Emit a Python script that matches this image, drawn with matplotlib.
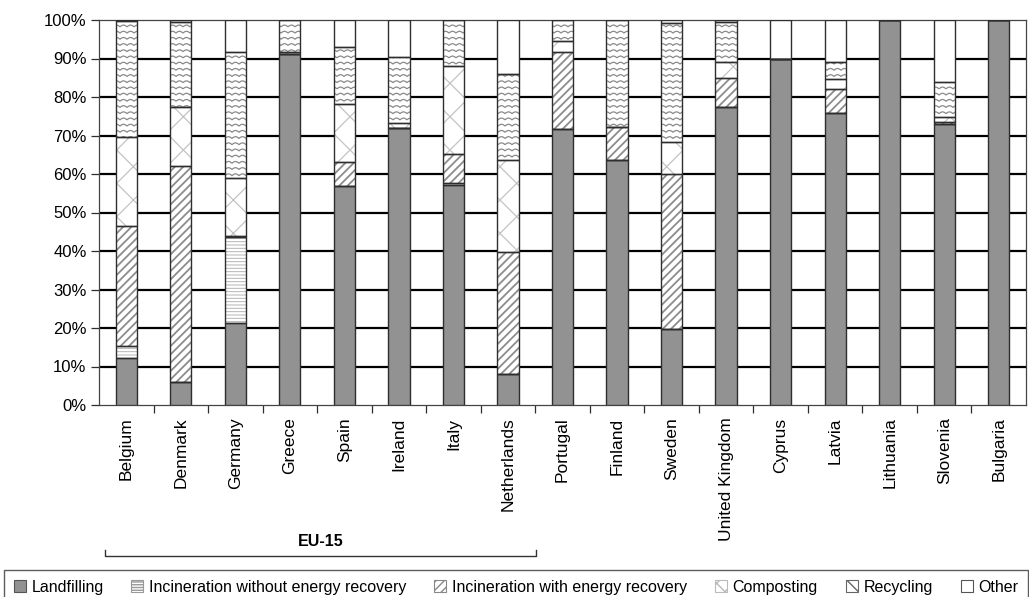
"""
Municipal waste treatment shares by country, stacked to 100 %.
"""

import numpy as np
import matplotlib.pyplot as plt
from matplotlib.patches import Patch
from matplotlib.collections import LineCollection
import matplotlib.transforms as mtransforms

plt.rcParams['font.family'] = ['Liberation Sans', 'DejaVu Sans']

# ============================================================================
# Data (% of municipal waste)
# ============================================================================

countries = ['Belgium', 'Denmark', 'Germany', 'Greece', 'Spain', 'Ireland',
             'Italy', 'Netherlands', 'Portugal', 'Finland', 'Sweden',
             'United Kingdom', 'Cyprus', 'Latvia', 'Lithuania', 'Slovenia',
             'Bulgaria']

landfilling = [12.3, 5.9, 21.4, 91.2, 56.9, 72.0, 57.1, 8.1, 71.7, 63.6,
               19.7, 77.3, 89.9, 75.8, 100.0, 72.9, 100.0]
incin_no_energy = [3.0, 0.0, 22.3, 0.0, 0.0, 0.0, 0.5, 0.0, 0.0, 0.0,
                   0.0, 0.0, 0.0, 0.0, 0.0, 0.0, 0.0]
incin_energy = [31.3, 56.2, 0.3, 0.0, 6.1, 0.0, 7.6, 31.6, 20.1, 8.5,
                40.2, 7.7, 0.0, 6.4, 0.0, 0.5, 0.0]
composting = [22.9, 15.4, 14.9, 0.6, 15.2, 1.3, 22.9, 23.9, 2.8, 0.0,
              8.5, 4.0, 0.0, 2.6, 0.0, 1.3, 0.0]
recycling = [30.3, 22.1, 32.7, 8.2, 14.7, 17.0, 11.9, 22.4, 5.4, 27.9,
             30.9, 10.6, 0.0, 4.2, 0.0, 9.1, 0.0]
other = [0.2, 0.4, 8.4, 0.0, 7.1, 9.7, 0.0, 14.0, 0.0, 0.0,
         0.7, 0.4, 10.1, 11.0, 0.0, 16.2, 0.0]

pct_ticks = np.arange(0, 101, 10)
eu15_label = 'EU-15'

# ============================================================================
# Styling
# ============================================================================

EDGE = '#2e2e2e'
BAR_W = 0.39

# (label, values, facecolor, hatch, hatch colour, hatch linewidth)
series = [
    ('Landfilling', landfilling, '#929292', None, None, 0.8),
    ('Incineration without energy recovery', incin_no_energy, 'white',
     '-----', '#b4b4b4', 0.7),
    ('Incineration with energy recovery', incin_energy, 'white',
     '////', '#8c8c8c', 1.3),
    ('Composting', composting, 'white', 'x', '#c4c4c4', 0.9),
    ('Recycling', recycling, 'white', None, None, 0.8),
    ('Other', other, 'white', None, None, 0.8),
]

fig = plt.figure(figsize=(10.29, 5.97), dpi=100)
ax = fig.add_axes([99 / 1029, 1 - 405 / 597, 927 / 1029, 385 / 597])

x = np.arange(len(countries))
bottom = np.zeros(len(countries))
recycling_bars = None

for label, vals, face, hatch, hcol, hlw in series:
    vals = np.asarray(vals, dtype=float)
    with plt.rc_context({'hatch.linewidth': hlw}):
        if hatch:
            # hatch colour follows edgecolor, so draw fill and outline apart
            fills = ax.bar(x, vals, BAR_W, bottom=bottom, color=face,
                           edgecolor=hcol, linewidth=0, hatch=hatch, zorder=3)
            for p in fills:
                if hasattr(p, 'set_hatch_linewidth'):
                    p.set_hatch_linewidth(hlw)
        else:
            fills = ax.bar(x, vals, BAR_W, bottom=bottom, color=face,
                           linewidth=0, zorder=3)
    ax.bar(x, vals, BAR_W, bottom=bottom, fill=False, edgecolor=EDGE,
           linewidth=1.0, zorder=4)
    if label == 'Recycling':
        recycling_bars = fills
    bottom += vals

# ---- axes ----
ax.set_xlim(-0.5, len(countries) - 0.5)
ax.set_ylim(0, 100)
ax.set_yticks(pct_ticks)
ax.set_yticklabels([f'{t}%' for t in pct_ticks], fontsize=12)
ax.set_xticks(x)
ax.set_xticklabels(countries, rotation=90, fontsize=12.5)
ax.set_xticks(x[:-1] + 0.5, minor=True)
ax.tick_params(axis='x', which='major', length=0, pad=9)
ax.tick_params(axis='x', which='minor', length=6, width=0.9, color=EDGE)
ax.tick_params(axis='y', length=6, width=0.9, color=EDGE, pad=3)

for g in pct_ticks[1:-1]:
    ax.axhline(g, color='black', linewidth=1.6, zorder=1)
for s in ax.spines.values():
    s.set_color('#444444')
    s.set_linewidth(0.9)

# ---- wavy texture for recycling (no built-in hatch for it) ----
ax_px = ax.get_window_extent(fig.canvas.get_renderer())
w_px, h_px = ax_px.width, ax_px.height
x0_lim, x1_lim = ax.get_xlim()
row_gap, period, amp = 6.2, 7.0, 1.7
for p in recycling_bars:
    if p.get_height() <= 0:
        continue
    bx0 = (p.get_x() - x0_lim) / (x1_lim - x0_lim) * w_px - 2
    bx1 = (p.get_x() + p.get_width() - x0_lim) / (x1_lim - x0_lim) * w_px + 2
    xs = np.linspace(bx0, bx1, 80)
    segs = []
    for yr in np.arange(-row_gap, h_px + row_gap, row_gap):
        ys = yr + amp * np.abs(np.sin(np.pi * xs / period))
        segs.append(np.column_stack([xs / w_px, ys / h_px]))
    lc = LineCollection(segs, colors='#8a8a8a', linewidths=0.9,
                        transform=ax.transAxes, zorder=3.5)
    ax.add_collection(lc, autolim=False)
    lc.set_clip_path(p)

# ---- EU-15 bracket ----
trans = mtransforms.blended_transform_factory(ax.transData, fig.transFigure)
y_line = 1 - 556 / 597
y_tick = 1 - 550 / 597
bx_left, bx_right = -0.39, 7.52
ax.plot([bx_left, bx_left, bx_right, bx_right],
        [y_tick, y_line, y_line, y_tick], color='#333333', linewidth=1.0,
        transform=trans, clip_on=False)
ax.text((bx_left + bx_right) / 2, 1 - 541 / 597, eu15_label,
        transform=trans, ha='center', va='center', fontsize=11.5,
        fontweight='bold')

# ---- legend ----
handles = [
    Patch(facecolor='#929292', edgecolor='#555555', linewidth=0.8),
    Patch(facecolor='white', edgecolor='#999999', hatch='------',
          linewidth=0.8),
    Patch(facecolor='white', edgecolor='#888888', hatch='////',
          linewidth=0.8),
    Patch(facecolor='white', edgecolor='#bbbbbb', hatch='xx', linewidth=0.8),
    Patch(facecolor='white', edgecolor='#666666', hatch='\\\\',
          linewidth=0.8),
    Patch(facecolor='white', edgecolor='#555555', linewidth=0.8),
]
leg = fig.legend(handles, [s[0] for s in series], loc='lower left',
                 bbox_to_anchor=(0.004, -0.012), ncol=6, fontsize=11.5,
                 frameon=True, fancybox=False, edgecolor='#333333',
                 handlelength=0.75, handleheight=0.75, handletextpad=0.35,
                 columnspacing=1.75, borderpad=0.6, borderaxespad=0)
leg.get_frame().set_linewidth(1.0)

fig.savefig('out.png', dpi=100)
